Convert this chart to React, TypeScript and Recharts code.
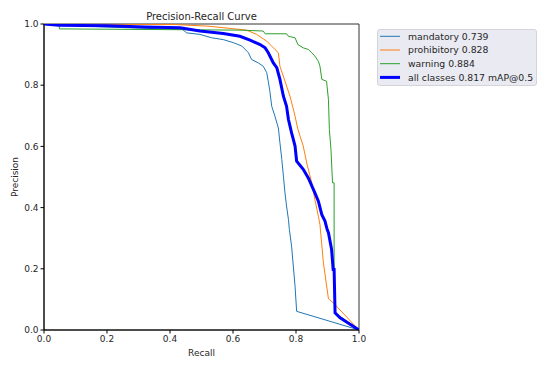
import React from "react";
import { LineChart, Line, XAxis, YAxis, ReferenceArea } from "recharts";

const mandatoryX = [0, 0.045, 0.2, 0.44, 0.453, 0.495, 0.532, 0.569, 0.601, 0.628, 0.649, 0.659, 0.68, 0.696, 0.707, 0.712, 0.717, 0.723, 0.733, 0.744, 0.749, 0.755, 0.76, 0.765, 0.77, 0.776, 0.779, 0.786, 0.797, 0.802, 1.0];
const mandatoryY = [1, 0.997, 0.99, 0.982, 0.971, 0.966, 0.955, 0.949, 0.939, 0.928, 0.906, 0.884, 0.873, 0.862, 0.841, 0.813, 0.78, 0.731, 0.699, 0.66, 0.612, 0.557, 0.503, 0.448, 0.405, 0.361, 0.328, 0.274, 0.143, 0.061, 0];

const prohibitoryX = [0, 0.42, 0.52, 0.569, 0.643, 0.675, 0.707, 0.733, 0.744, 0.749, 0.765, 0.781, 0.797, 0.805, 0.813, 0.823, 0.834, 0.85, 0.86, 0.871, 0.876, 0.887, 0.903, 0.918, 1.0];
const prohibitoryY = [1, 0.998, 0.993, 0.988, 0.98, 0.966, 0.944, 0.917, 0.906, 0.862, 0.813, 0.764, 0.699, 0.66, 0.633, 0.601, 0.546, 0.481, 0.426, 0.372, 0.345, 0.22, 0.102, 0.089, 0];

const warningX = [0, 0.048, 0.049, 0.622, 0.696, 0.702, 0.77, 0.776, 0.797, 0.806, 0.823, 0.839, 0.85, 0.86, 0.871, 0.876, 0.882, 0.897, 0.903, 0.906, 0.911, 0.916, 0.921, 0.921, 0.924, 1.0];
const warningY = [1, 1, 0.984, 0.98, 0.977, 0.968, 0.968, 0.96, 0.955, 0.933, 0.922, 0.917, 0.906, 0.895, 0.878, 0.862, 0.819, 0.813, 0.753, 0.655, 0.59, 0.481, 0.481, 0.2, 0.056, 0];

const allX = [0, 0.048, 0.2, 0.32, 0.432, 0.495, 0.569, 0.622, 0.654, 0.686, 0.702, 0.712, 0.728, 0.739, 0.749, 0.76, 0.77, 0.776, 0.786, 0.797, 0.802, 0.823, 0.839, 0.86, 0.871, 0.882, 0.892, 0.899, 0.903, 0.913, 0.918, 0.921, 0.924, 0.94, 1.0];
const allY = [1, 0.996, 0.994, 0.99, 0.988, 0.977, 0.969, 0.96, 0.947, 0.933, 0.922, 0.906, 0.873, 0.857, 0.819, 0.764, 0.731, 0.688, 0.644, 0.601, 0.552, 0.525, 0.497, 0.448, 0.421, 0.377, 0.356, 0.328, 0.318, 0.263, 0.198, 0.198, 0.056, 0.04, 0];

const ticks = [0, 0.2, 0.4, 0.6, 0.8, 1.0];

const series = [
  { name: "mandatory 0.739", xs: mandatoryX, ys: mandatoryY, color: "#1f77b4", width: 1 },
  { name: "prohibitory 0.828", xs: prohibitoryX, ys: prohibitoryY, color: "#ff7f0e", width: 1 },
  { name: "warning 0.884", xs: warningX, ys: warningY, color: "#2ca02c", width: 1 },
  { name: "all classes 0.817 mAP@0.5", xs: allX, ys: allY, color: "#0000ff", width: 3 },
];

const toData = (xs: number[], ys: number[]) => xs.map((x, i) => ({ x, y: ys[i] }));

const FONT = "DejaVu Sans, sans-serif";
const TXT = "#262626";

export default function App() {
  return (
    <div style={{ position: "absolute", left: 0, top: 0, width: 553, height: 369, background: "#fff" }}>
      <LineChart width={553} height={369} margin={{ top: 24, right: 194, bottom: 9, left: 10 }}>
        <XAxis
          type="number"
          dataKey="x"
          domain={[0, 1]}
          ticks={ticks}
          tickFormatter={(v: number) => v.toFixed(1)}
          allowDataOverflow
          height={30}
          stroke="#000"
          tickSize={3.5}
          tick={{ fontSize: 9, fill: TXT, fontFamily: FONT }}
        />
        <YAxis
          type="number"
          dataKey="y"
          domain={[0, 1]}
          ticks={ticks}
          tickFormatter={(v: number) => v.toFixed(1)}
          allowDataOverflow
          width={34}
          stroke="#000"
          tickSize={3.5}
          tick={{ fontSize: 9, fill: TXT, fontFamily: FONT }}
        />
        <ReferenceArea x1={0} x2={1} y1={0} y2={1} fill="none" stroke="#333" strokeWidth={1} ifOverflow="visible" />
        {series.map((s) => (
          <Line
            key={s.name}
            data={toData(s.xs, s.ys)}
            dataKey="y"
            name={s.name}
            type="linear"
            stroke={s.color}
            strokeWidth={s.width}
            dot={false}
            activeDot={false}
            isAnimationActive={false}
          />
        ))}
        <text x={201.5} y={19.5} textAnchor="middle" fontSize={10} fill={TXT} fontFamily={FONT}>
          Precision-Recall Curve
        </text>
        <text x={201.5} y={356} textAnchor="middle" fontSize={9} fill={TXT} fontFamily={FONT}>
          Recall
        </text>
        <text x={18} y={177} textAnchor="middle" fontSize={9} fill={TXT} fontFamily={FONT} transform="rotate(-90 18 177)">
          Precision
        </text>
        <g>
          <rect x={377.5} y={29.5} width={159} height={56} rx={2.5} fill="#eaeaf2" stroke="#d4d4d8" strokeWidth={1} />
          {series.map((s, i) => {
            const cy = 36.3 + i * 13.7;
            return (
              <g key={s.name}>
                <line x1={380} x2={400} y1={cy} y2={cy} stroke={s.color} strokeWidth={s.width} />
                <text x={408} y={cy + 3.3} fontSize={9.3} fill={TXT} fontFamily={FONT}>
                  {s.name}
                </text>
              </g>
            );
          })}
        </g>
      </LineChart>
    </div>
  );
}
